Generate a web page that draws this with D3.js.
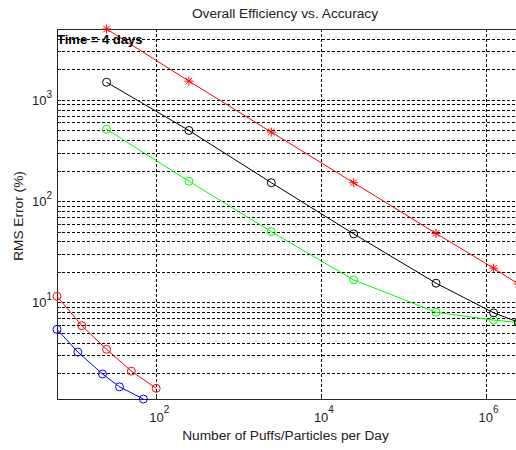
<!DOCTYPE html>
<html>
<head>
<meta charset="utf-8">
<script src="https://cdn.jsdelivr.net/npm/d3@7"></script>
<style>
  html, body { margin: 0; padding: 0; background: #fff; overflow: hidden; }
  svg { display: block; }
  text { font-family: "Liberation Sans", Arial, sans-serif; }
</style>
</head>
<body>
<svg id="chart" width="516" height="450"></svg>
<script>
// ---- data ----
const xLarge      = [25, 250, 2500, 25000, 250000, 1250000, 2500000];
const redStars    = [5000, 1530, 480, 152, 48, 21.8, 15.2];
const blackCircle = [1490, 498, 152, 47.5, 15.5, 7.9, 6.4];
const greenCircle = [512, 157, 50, 16.7, 8.0, 6.7, 6.35];

const xSmallRed   = [6.25, 12.5, 25, 50, 100];
const redCircle   = [11.5, 5.9, 3.45, 2.1, 1.42];
const xSmallBlue  = [6.25, 11.2, 22.3, 35.9, 70];
const blueCircle  = [5.43, 3.24, 1.97, 1.47, 1.115];

const xTickValues = [1e2, 1e4, 1e6];
const xTickExps   = ["2", "4", "6"];
const yTickValues = [1e1, 1e2, 1e3];
const yTickExps   = ["1", "2", "3"];

const titleText = "Overall Efficiency vs. Accuracy";
const xLabelText = "Number of Puffs/Particles per Day";
const yLabelText = "RMS Error (%)";
const noteText = "Time = 4 days";

// ---- layout ----
const margin = {left: 57, top: 29, right: 518.4, bottom: 399};
const svg = d3.select("#chart");

const allX = xLarge.concat(xSmallRed, xSmallBlue);
const allY = redStars.concat(blackCircle, greenCircle, redCircle, blueCircle);

const x = d3.scaleLog().domain([d3.min(allX), d3.max(allX)]).range([margin.left, margin.right]);
const y = d3.scaleLog().domain([d3.min(allY), d3.max(allY)]).range([margin.bottom, margin.top]);

// ---- grid ----
const grid = svg.append("g").attr("stroke", "#000").attr("stroke-width", 1)
  .attr("stroke-dasharray", "3,2").attr("shape-rendering", "crispEdges");

// minor + major y grid lines (1..9 x 10^k)
const yGridVals = [];
for (let k = 0; k <= 3; k++) {
  for (let m = 1; m <= 9; m++) {
    const v = m * Math.pow(10, k);
    if (v >= y.domain()[0] && v <= y.domain()[1]) yGridVals.push(v);
  }
}
grid.selectAll("line.hg").data(yGridVals).enter().append("line")
  .attr("x1", margin.left).attr("x2", margin.right)
  .attr("y1", d => Math.round(y(d)) + 0.5).attr("y2", d => Math.round(y(d)) + 0.5);

grid.selectAll("line.vg").data(xTickValues).enter().append("line")
  .attr("y1", margin.top).attr("y2", margin.bottom)
  .attr("x1", d => Math.round(x(d)) + 0.5).attr("x2", d => Math.round(x(d)) + 0.5);

// ---- axes (box) ----
const axisColor = "#262626";
const ax = svg.append("g").attr("stroke", axisColor).attr("stroke-width", 1).attr("shape-rendering", "crispEdges");
ax.append("line").attr("x1", margin.left + 0.5).attr("x2", margin.left + 0.5).attr("y1", margin.top).attr("y2", margin.bottom + 0.5);
ax.append("line").attr("x1", margin.left).attr("x2", margin.right).attr("y1", margin.bottom + 0.5).attr("y2", margin.bottom + 0.5);
ax.append("line").attr("x1", margin.left).attr("x2", margin.right).attr("y1", margin.top + 0.5).attr("y2", margin.top + 0.5);
ax.append("line").attr("x1", margin.right).attr("x2", margin.right).attr("y1", margin.top).attr("y2", margin.bottom);

// tick marks
ax.selectAll("line.yt").data(yGridVals).enter().append("line")
  .attr("x1", margin.left).attr("x2", margin.left + 4)
  .attr("y1", d => Math.round(y(d)) + 0.5).attr("y2", d => Math.round(y(d)) + 0.5);
ax.selectAll("line.xt").data(xTickValues).enter().append("line")
  .attr("y1", margin.bottom - 4).attr("y2", margin.bottom)
  .attr("x1", d => Math.round(x(d)) + 0.5).attr("x2", d => Math.round(x(d)) + 0.5);

// ---- tick labels ----
const xl = svg.append("g").attr("fill", "#222");
xTickValues.forEach((v, i) => {
  const t = xl.append("text").attr("x", x(v) + 3).attr("y", 422)
    .attr("text-anchor", "middle").attr("font-size", "13px");
  t.append("tspan").text("10");
  t.append("tspan").attr("dy", -9).attr("font-size", "10px").text(xTickExps[i]);
});
yTickValues.forEach((v, i) => {
  const t = xl.append("text").attr("x", 52).attr("y", y(v) + 5)
    .attr("text-anchor", "end").attr("font-size", "13px");
  t.append("tspan").text("10");
  t.append("tspan").attr("dy", -7).attr("font-size", "10px").text(yTickExps[i]);
});

// ---- labels ----
svg.append("text").attr("x", 285).attr("y", 18).attr("text-anchor", "middle")
  .attr("font-size", "13.7px").attr("fill", "#222").text(titleText);
svg.append("text").attr("x", 285.5).attr("y", 440).attr("text-anchor", "middle")
  .attr("font-size", "13.7px").attr("fill", "#222").text(xLabelText);
svg.append("text").attr("transform", "translate(23,216) rotate(-90)").attr("text-anchor", "middle")
  .attr("font-size", "13.7px").attr("fill", "#222").text(yLabelText);

// ---- series ----
const line = d3.line().x(d => x(d[0])).y(d => y(d[1]));
function zip(xs, ys) { return xs.map((v, i) => [v, ys[i]]); }

function drawSeries(xs, ys, color, marker) {
  const data = zip(xs, ys);
  const g = svg.append("g");
  g.append("path").attr("d", line(data)).attr("fill", "none")
    .attr("stroke", color).attr("stroke-width", 1);
  if (marker === "circle") {
    g.selectAll("circle").data(data).enter().append("circle")
      .attr("cx", d => x(d[0])).attr("cy", d => y(d[1])).attr("r", 4)
      .attr("fill", "none").attr("stroke", color).attr("stroke-width", 1);
  } else {
    const r = 4.5, r2 = 3.3;
    const star = `M0,${-r}L0,${r}M${-r},0L${r},0M${-r2},${-r2}L${r2},${r2}M${-r2},${r2}L${r2},${-r2}`;
    g.selectAll("path.star").data(data).enter().append("path")
      .attr("transform", d => `translate(${x(d[0])},${y(d[1])})`)
      .attr("d", star).attr("fill", "none").attr("stroke", color).attr("stroke-width", 1);
  }
}

drawSeries(xSmallRed, redCircle, "#ff0000", "circle");
drawSeries(xSmallBlue, blueCircle, "#0000ff", "circle");
drawSeries(xLarge, redStars, "#ff0000", "star");
drawSeries(xLarge, greenCircle, "#00ff00", "circle");
drawSeries(xLarge, blackCircle, "#000000", "circle");

// ---- annotation ----
svg.append("text").attr("x", 57).attr("y", 43.5).attr("font-size", "13px")
  .attr("font-weight", "bold").attr("fill", "#000").text(noteText);
</script>
</body>
</html>
